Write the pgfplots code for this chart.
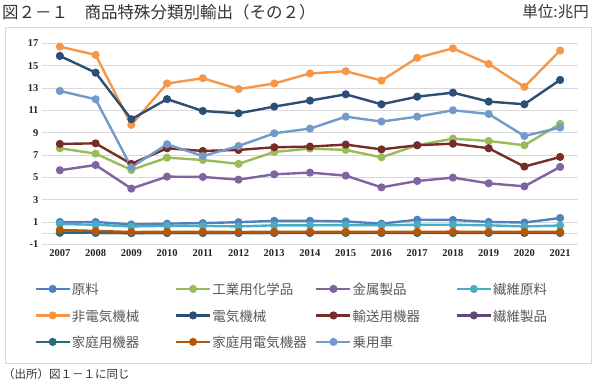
\documentclass[border=0pt]{standalone}
\usepackage{fontspec}
\setmainfont{Noto Sans CJK JP}
\newfontfamily\tickfont{Liberation Serif}
\usepackage{pgfplots}
\usepackage{pgfplotstable}
\pgfplotsset{compat=1.18}
\definecolor{cGenryo}{HTML}{4F81BD}
\definecolor{cKagaku}{HTML}{9BBB59}
\definecolor{cKinzoku}{HTML}{8064A2}
\definecolor{cSenigen}{HTML}{4BACC6}
\definecolor{cHiden}{HTML}{F79646}
\definecolor{cDenki}{HTML}{2C4D75}
\definecolor{cYuso}{HTML}{772C2A}
\definecolor{cSeniseihin}{HTML}{5F497A}
\definecolor{cKatei}{HTML}{276A7C}
\definecolor{cKateiden}{HTML}{B65708}
\definecolor{cJoyo}{HTML}{729ACA}
\definecolor{cGrid}{HTML}{D9D9D9}
\definecolor{cText}{HTML}{595959}
\pgfplotstableread{
year genryo kagaku kinzoku senigen hiden denki yuso seniseihin katei kateiden joyo
2007 1.00 7.60 5.63 0.82 16.70 15.87 7.99 0.03 0.05 0.28 12.73
2008 1.00 7.12 6.10 0.75 15.96 14.37 8.04 0.03 0.03 0.20 11.99
2009 0.78 5.66 3.99 0.60 9.70 10.20 6.20 0.02 0.00 0.10 5.90
2010 0.85 6.76 5.06 0.65 13.40 12.00 7.60 0.02 0.02 0.12 7.96
2011 0.90 6.55 5.03 0.65 13.87 10.94 7.36 0.02 0.02 0.12 6.90
2012 0.98 6.20 4.79 0.60 12.90 10.73 7.45 0.02 0.02 0.10 7.80
2013 1.10 7.27 5.27 0.70 13.40 11.33 7.69 0.02 0.03 0.12 8.94
2014 1.10 7.57 5.42 0.70 14.30 11.87 7.75 0.02 0.03 0.12 9.36
2015 1.05 7.45 5.15 0.72 14.50 12.43 7.93 0.02 0.03 0.12 10.43
2016 0.85 6.79 4.10 0.70 13.66 11.54 7.50 0.02 0.03 0.12 9.99
2017 1.20 7.87 4.67 0.75 15.70 12.22 7.87 0.02 0.03 0.12 10.43
2018 1.18 8.46 4.97 0.75 16.55 12.58 8.01 0.02 0.03 0.13 11.00
2019 1.00 8.25 4.46 0.70 15.15 11.78 7.60 0.02 0.03 0.12 10.67
2020 0.95 7.87 4.19 0.60 13.10 11.54 5.96 0.02 0.03 0.12 8.70
2021 1.35 9.78 5.93 0.68 16.35 13.72 6.82 0.02 0.03 0.12 9.45
}\datatable
\newcommand{\legtxt}[1]{\makebox[102pt][l]{\rule[-4pt]{0pt}{17pt}#1}}
\begin{document}
\begin{tikzpicture}
\path[use as bounding box] (0,0) rectangle (600pt,388pt);
\draw[cGrid, line width=0.8pt] (5pt,25pt) rectangle (591pt,361pt);
\node[anchor=west, inner sep=0pt, text=black!80, font=\fontsize{16.5}{17}\selectfont] at (2pt,376pt) {図２－１　商品特殊分類別輸出（その２）};
\node[anchor=east, inner sep=0pt, text=black!80, font=\fontsize{15.5}{16}\selectfont] at (589pt,376pt) {単位:兆円};
\node[anchor=west, inner sep=0pt, text=black!80, font=\fontsize{11.5}{12}\selectfont] at (3pt,14pt) {（出所）図１－１に同じ};
\begin{axis}[
  at={(42pt,143.7pt)}, anchor=south west,
  scale only axis, width=536pt, height=201pt,
  xmin=2006.5, xmax=2021.5, ymin=-1, ymax=17,
  xtick={2007,...,2021}, ytick={-1,1,...,17},
  extra y ticks={0}, extra y tick labels={},
  extra y tick style={grid=major},
  x tick label style={/pgf/number format/1000 sep={}},
  /pgf/number format/assume math mode=true,
  ticklabel style={font=\tickfont\bfseries\fontsize{10.5}{11}\selectfont, text=black!85},
  xticklabel style={yshift=-2pt},
  axis line style={draw=none}, major tick length=0pt,
  ymajorgrids, grid style={cGrid, line width=0.8pt},
  every axis plot/.append style={line width=2.4pt, mark=*, mark size=2.8pt, mark options={solid}},
  legend columns=4,
  legend style={draw=none, fill=none, at={(axis description cs:-0.02,-0.17)}, anchor=north west,
    font=\fontsize{13.5}{13.5}\selectfont, text=cText, nodes={inner sep=1pt},
    /tikz/every even column/.append style={column sep=0pt},
    /tikz/every odd column/.append style={column sep=0pt},
    row sep=10pt},
  legend image code/.code={\draw[#1, mark repeat=2, mark phase=2] plot coordinates {(0pt,0pt) (17pt,0pt) (34pt,0pt)};},
]
\addplot[cGenryo] table[x=year,y=genryo]{\datatable};
\addplot[cKagaku] table[x=year,y=kagaku]{\datatable};
\addplot[cKinzoku] table[x=year,y=kinzoku]{\datatable};
\addplot[cSenigen] table[x=year,y=senigen]{\datatable};
\addplot[cHiden] table[x=year,y=hiden]{\datatable};
\addplot[cDenki] table[x=year,y=denki]{\datatable};
\addplot[cYuso] table[x=year,y=yuso]{\datatable};
\addplot[cSeniseihin] table[x=year,y=seniseihin]{\datatable};
\addplot[cKatei] table[x=year,y=katei]{\datatable};
\addplot[cKateiden] table[x=year,y=kateiden]{\datatable};
\addplot[cJoyo] table[x=year,y=joyo]{\datatable};
\legend{\legtxt{原料},\legtxt{工業用化学品},\legtxt{金属製品},\legtxt{繊維原料},\legtxt{非電気機械},\legtxt{電気機械},\legtxt{輸送用機器},\legtxt{繊維製品},\legtxt{家庭用機器},\legtxt{家庭用電気機器},\legtxt{乗用車}}
\end{axis}
\end{tikzpicture}
\end{document}
